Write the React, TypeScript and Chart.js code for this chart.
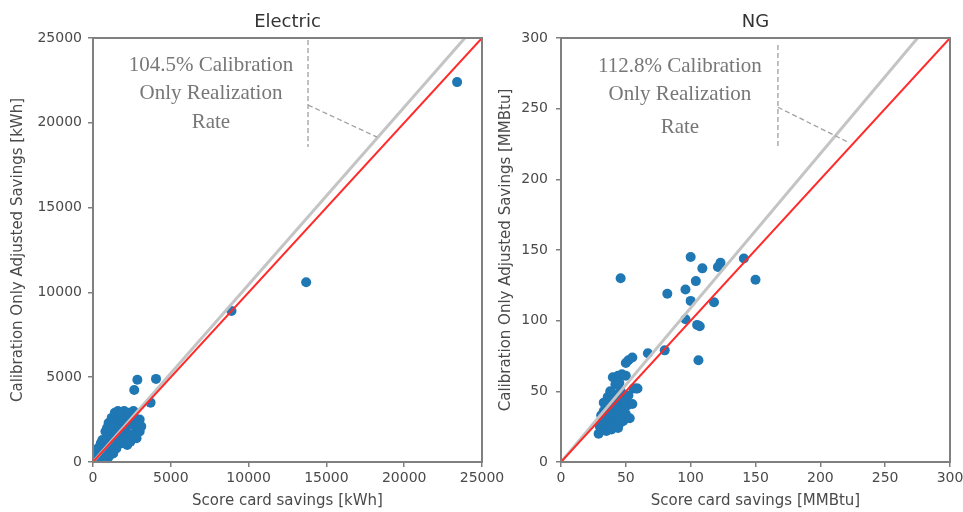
import React, { useEffect, useRef } from 'react';
import { Chart, registerables } from 'chart.js';
Chart.register(...registerables);

// ---------- Data ----------
const elecTitle = 'Electric';
const elecXTitle = 'Score card savings [kWh]';
const elecYTitle = 'Calibration Only Adjusted Savings [kWh]';
const elecTicks = [0, 5000, 10000, 15000, 20000, 25000];
const elecScore = [23400, 13700, 8900, 4050, 2850, 2650, 3700, 150, 300, 400, 500, 600, 700, 800, 900, 1000, 1100, 1200, 1300, 1400, 1500, 1600, 1700, 1800, 1900, 2000, 2100, 2200, 2300, 2400, 2500, 2600, 2700, 2800, 2900, 3000, 3100, 1000, 1200, 800, 600, 1400, 1600, 1800, 2000, 2200, 1200, 1500, 700, 1000, 1300, 1800, 2400, 2600, 3000, 1500, 2000, 2500, 900, 1100, 1700, 2300, 400, 200, 500, 600, 2800, 300];
const elecAdjusted = [22400, 10600, 8900, 4900, 4850, 4250, 3500, 100, 350, 700, 1100, 450, 900, 1200, 600, 1500, 800, 1800, 2600, 1100, 2200, 1400, 2700, 1700, 2400, 3000, 1900, 2800, 1500, 2600, 2200, 3000, 1700, 2300, 2000, 2500, 2100, 2300, 2600, 1800, 1300, 2900, 3000, 1100, 1300, 1000, 600, 800, 400, 300, 500, 2900, 1200, 2800, 1800, 1700, 2200, 1600, 2000, 2100, 1900, 2900, 300, 500, 200, 800, 1400, 800];
const elecOneToOne = [[0, 0], [25000, 25000]];
const elecRateLine = [[0, 0], [23900, 25000]];
const elecNote = ['104.5% Calibration', 'Only Realization', 'Rate'];

const ngTitle = 'NG';
const ngXTitle = 'Score card savings [MMBtu]';
const ngYTitle = 'Calibration Only Adjusted Savings [MMBtu]';
const ngTicks = [0, 50, 100, 150, 200, 250, 300];
const ngScore = [100, 109, 123, 121, 141, 46, 104, 150, 82, 96, 100, 118, 96, 105, 107, 106, 80, 67, 52, 55, 50, 40, 47, 59, 29, 30, 32, 33, 34, 35, 36, 37, 38, 39, 40, 41, 42, 43, 44, 45, 46, 47, 48, 49, 50, 51, 52, 53, 55, 56, 58, 44, 50, 36, 38, 42, 45, 33, 31, 35, 39, 44, 48, 46, 43, 38, 41];
const ngAdjusted = [145, 137, 141, 138, 144, 130, 128, 129, 119, 122, 114, 113, 101, 97, 96, 72, 79, 77, 72, 74, 70, 60, 62, 52, 20, 25, 30, 36, 28, 40, 33, 45, 26, 38, 30, 48, 35, 27, 42, 32, 50, 38, 29, 44, 34, 40, 47, 31, 41, 52, 52, 61, 61, 46, 50, 55, 56, 42, 33, 22, 23, 24, 45, 28, 45, 33, 41];
const ngOneToOne = [[0, 0], [300, 300]];
const ngRateLine = [[0, 0], [275, 300]];
const ngNote = ['112.8% Calibration', 'Only Realization', 'Rate'];

// annotation anchors in data units
const elecNoteAnchor = { textX: 7580, textY: [23400, 21750, 20000], divX: 13820, divTop: 25000, divBottom: 18570, leadY: 21050, leadEnd: [18250, 19160] };
const ngNoteAnchor = { textX: 91.7, textY: [279.5, 259.7, 237], divX: 167.3, divTop: 295, divBottom: 222, leadY: 251, leadEnd: [221, 226.5] };

const BLUE = '#1f77b4';
const FRAME = '#808080';

const decor = {
  id: 'decor',
  afterDraw(chart: any, _args: any, opts: any) {
    const { ctx, chartArea, scales } = chart;
    const { left, right, top, bottom } = chartArea;
    const x = scales.x, y = scales.y;
    const a = opts.anchor;
    ctx.save();
    // annotation box
    const dx = x.getPixelForValue(a.divX);
    const dTop = y.getPixelForValue(a.divTop);
    const dBot = y.getPixelForValue(a.divBottom);
    ctx.fillStyle = '#ffffff';
    ctx.fillRect(left + 1, top + 1, dx - left - 1, dBot - top);
    ctx.strokeStyle = '#a0a0a0';
    ctx.lineWidth = 1.3;
    ctx.setLineDash([5, 3]);
    ctx.beginPath();
    ctx.moveTo(dx, Math.max(dTop, top + 2));
    ctx.lineTo(dx, dBot);
    ctx.stroke();
    ctx.beginPath();
    ctx.moveTo(dx, y.getPixelForValue(a.leadY));
    ctx.lineTo(x.getPixelForValue(a.leadEnd[0]), y.getPixelForValue(a.leadEnd[1]));
    ctx.stroke();
    ctx.setLineDash([]);
    ctx.fillStyle = '#777777';
    ctx.font = '21px "Liberation Serif"';
    ctx.textAlign = 'center';
    ctx.textBaseline = 'middle';
    const tx = x.getPixelForValue(a.textX);
    opts.note.forEach((line: string, i: number) => {
      ctx.fillText(line, tx, y.getPixelForValue(a.textY[i]));
    });
    // frame
    ctx.strokeStyle = FRAME;
    ctx.lineWidth = 2;
    ctx.strokeRect(left, top, right - left, bottom - top);
    // title
    ctx.fillStyle = '#333333';
    ctx.font = '18px "DejaVu Sans"';
    ctx.textAlign = 'center';
    ctx.textBaseline = 'middle';
    ctx.fillText(opts.title, (left + right) / 2, top - 16);
    ctx.restore();
  },
};

function makeChart(canvas: HTMLCanvasElement, p: any) {
  const max = p.ticks[p.ticks.length - 1];
  const step = p.ticks[1] - p.ticks[0];
  const pts = p.xs.map((v: number, i: number) => ({ x: v, y: p.ys[i] }));
  const axisCommon = {
    type: 'linear',
    min: 0,
    max,
    border: { display: true, color: FRAME, width: 2 },
    grid: { display: true, drawOnChartArea: false, drawTicks: true, tickLength: 5, color: FRAME, lineWidth: 1.5 },
  };
  const fmt = (v: any) => String(v);
  return new Chart(canvas, {
    type: 'scatter',
    data: {
      datasets: [
        {
          type: 'line',
          data: p.oneToOne.map((q: number[]) => ({ x: q[0], y: q[1] })),
          borderColor: '#ff2a2a',
          borderWidth: 2,
          pointRadius: 0,
          fill: false,
        },
        {
          type: 'line',
          data: p.rateLine.map((q: number[]) => ({ x: q[0], y: q[1] })),
          borderColor: '#c4c4c4',
          borderWidth: 3,
          pointRadius: 0,
          fill: false,
        },
        {
          data: pts,
          backgroundColor: BLUE,
          borderColor: BLUE,
          borderWidth: 0,
          pointRadius: 5,
        },
      ],
    },
    options: {
      animation: false,
      responsive: false,
      devicePixelRatio: 1,
      layout: { padding: { top: 38, right: p.padRight, left: 0, bottom: 0 } },
      plugins: {
        legend: { display: false },
        tooltip: { enabled: false },
        decor: { title: p.title, note: p.note, anchor: p.anchor },
      },
      scales: {
        x: {
          ...axisCommon,
          position: 'bottom',
          afterFit(scale: any) { scale.height = 50; scale.paddingLeft = 0; scale.paddingRight = 0; },
          ticks: { stepSize: step, callback: fmt, color: '#4a4a4a', font: { size: 14, family: 'DejaVu Sans' }, padding: 3, maxRotation: 0, autoSkip: false },
          title: { display: true, text: p.xTitle, color: '#4a4a4a', font: { size: 15, family: 'DejaVu Sans' }, padding: { top: 0, bottom: 2 } },
        },
        y: {
          ...axisCommon,
          position: 'left',
          afterFit(scale: any) { scale.width = p.yWidth; scale.paddingTop = 0; scale.paddingBottom = 0; },
          ticks: { stepSize: step, callback: fmt, color: '#4a4a4a', font: { size: 14, family: 'DejaVu Sans' }, padding: p.yTickPad, autoSkip: false },
          title: { display: true, text: p.yTitle, color: '#4a4a4a', font: { size: 15, family: 'DejaVu Sans' }, padding: { top: p.yTitlePad, bottom: 0 } },
        },
      },
    } as any,
    plugins: [decor as any],
  });
}

export default function App() {
  const leftRef = useRef<HTMLCanvasElement>(null);
  const rightRef = useRef<HTMLCanvasElement>(null);
  useEffect(() => {
    const c1 = makeChart(leftRef.current!, {
      title: elecTitle, xTitle: elecXTitle, yTitle: elecYTitle, ticks: elecTicks,
      xs: elecScore, ys: elecAdjusted, oneToOne: elecOneToOne, rateLine: elecRateLine,
      note: elecNote, anchor: elecNoteAnchor, padRight: 28, yWidth: 93, yTickPad: 6, yTitlePad: 9,
    });
    const c2 = makeChart(rightRef.current!, {
      title: ngTitle, xTitle: ngXTitle, yTitle: ngYTitle, ticks: ngTicks,
      xs: ngScore, ys: ngAdjusted, oneToOne: ngOneToOne, rateLine: ngRateLine,
      note: ngNote, anchor: ngNoteAnchor, padRight: 13, yWidth: 71, yTickPad: 8, yTitlePad: 7,
    });
    return () => { c1.destroy(); c2.destroy(); };
  }, []);
  return (
    <div style={{ position: 'absolute', left: 0, top: 0, width: 963, height: 512, background: '#fff' }}>
      <canvas ref={leftRef} width={510} height={512} style={{ position: 'absolute', left: 0, top: 0, width: 510, height: 512 }} />
      <canvas ref={rightRef} width={473} height={512} style={{ position: 'absolute', left: 490, top: 0, width: 473, height: 512 }} />
    </div>
  );
}
